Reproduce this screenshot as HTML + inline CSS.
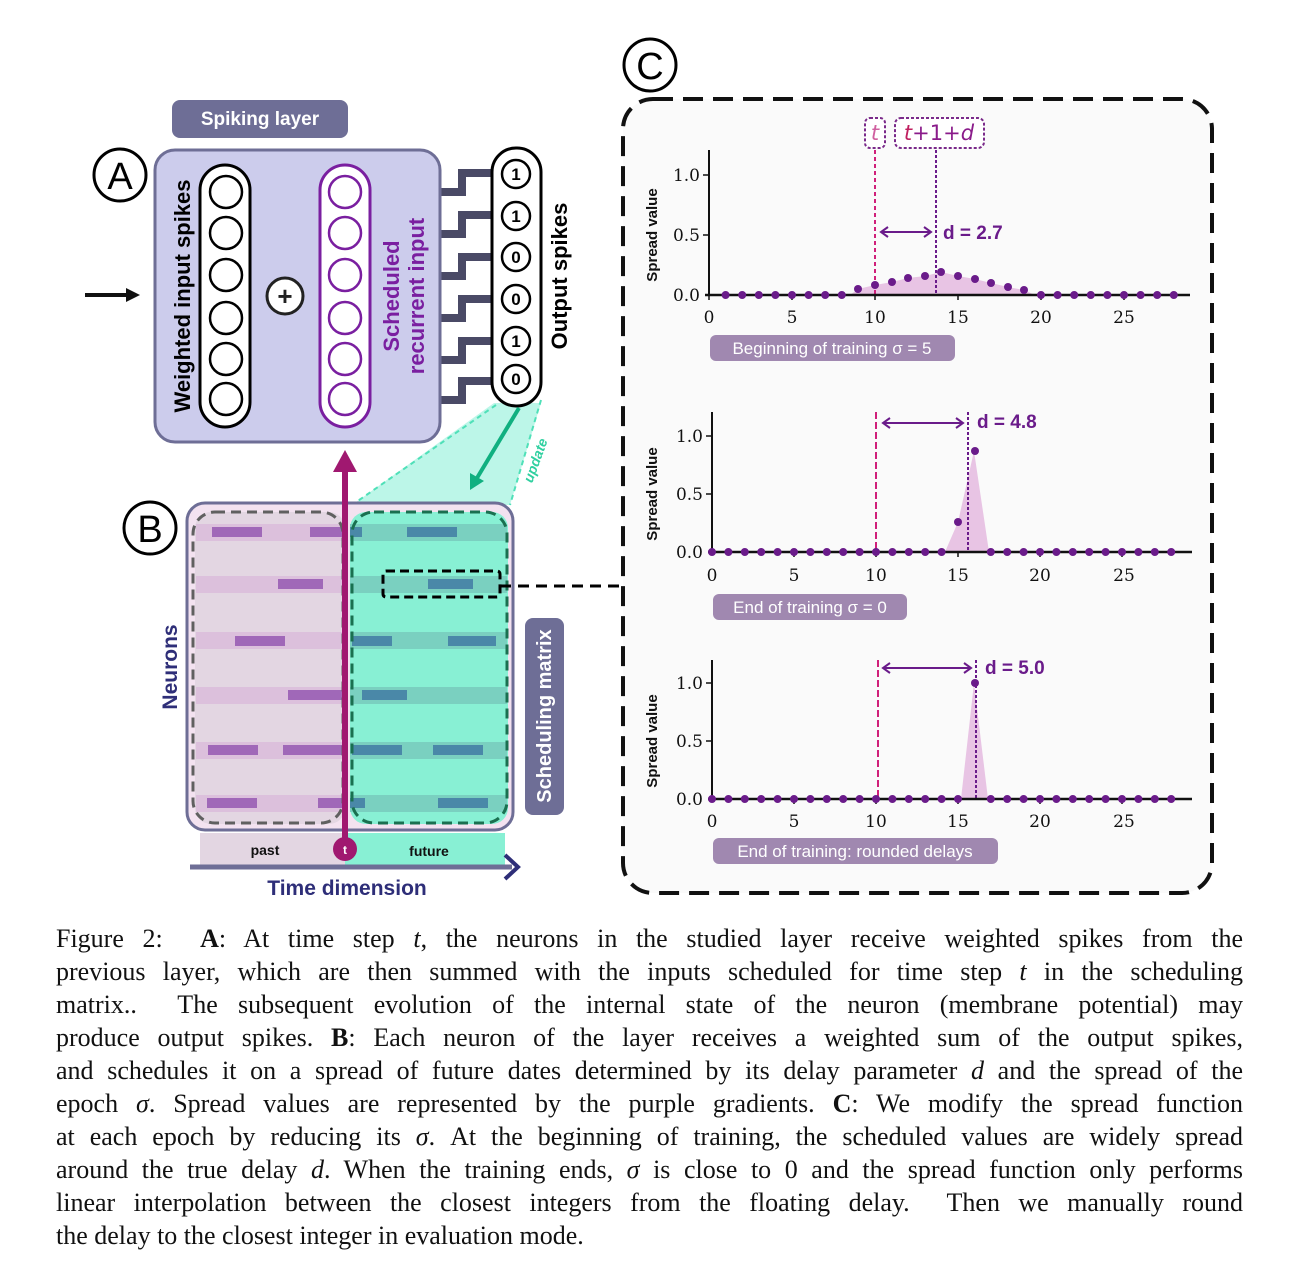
<!DOCTYPE html>
<html><head><meta charset="utf-8"><style>
html,body{margin:0;padding:0;background:#fff;}
body{width:1300px;height:1283px;position:relative;overflow:hidden;}
svg{position:absolute;left:0;top:0;}
.cap{position:absolute;left:56px;top:922px;width:1187px;font-family:"Liberation Serif",serif;font-size:26px;line-height:33px;color:#111;}
.cap div{white-space:nowrap;text-align:justify;text-align-last:justify;height:33px;}
.cap div.last{text-align-last:left;}
.s{font-family:"Liberation Sans",sans-serif;font-weight:bold;}
.tk{font-family:"DejaVu Serif","Liberation Serif",serif;font-size:17px;fill:#111;}
</style></head><body>
<svg width="1300" height="920" viewBox="0 0 1300 920">
<circle cx="120" cy="175" r="26" fill="#fff" stroke="#000" stroke-width="3"/>
<text x="120" y="189" text-anchor="middle" font-family="Liberation Sans" font-size="38">A</text>
<rect x="172" y="100" width="176" height="38" rx="8" fill="#6e6e96"/>
<text x="260" y="125" text-anchor="middle" class="s" font-size="19" fill="#fff">Spiking layer</text>
<line x1="85" y1="295" x2="128" y2="295" stroke="#111" stroke-width="4"/>
<polygon points="140,295 126,288 126,302" fill="#111"/>
<g stroke="#4a4a66" stroke-width="8" fill="none">
<path d="M440,192 H462 V173 H494"/><path d="M440,234 H462 V215 H494"/><path d="M440,276 H462 V257 H494"/>
<path d="M440,318 H462 V299 H494"/><path d="M440,360 H462 V341 H494"/><path d="M440,400 H462 V381 H494"/>
</g>
<rect x="155" y="150" width="285" height="292" rx="20" fill="#ccccec" stroke="#6e6e96" stroke-width="3"/>
<rect x="200" y="165" width="50" height="262" rx="25" fill="#fff" stroke="#000" stroke-width="3"/>
<g fill="none" stroke="#000" stroke-width="2.5">
<circle cx="226" cy="192" r="16"/><circle cx="226" cy="233" r="16"/><circle cx="226" cy="275" r="16"/><circle cx="226" cy="318" r="16"/><circle cx="226" cy="359" r="16"/><circle cx="226" cy="399" r="16"/>
</g>
<rect x="320" y="165" width="50" height="262" rx="25" fill="#fff" stroke="#7a1fa0" stroke-width="3"/>
<g fill="none" stroke="#7a1fa0" stroke-width="2.5">
<circle cx="345" cy="192" r="16"/><circle cx="345" cy="233" r="16"/><circle cx="345" cy="275" r="16"/><circle cx="345" cy="318" r="16"/><circle cx="345" cy="359" r="16"/><circle cx="345" cy="399" r="16"/>
</g>
<circle cx="285" cy="296" r="18" fill="#fff" stroke="#222" stroke-width="3"/>
<text x="285" y="305" text-anchor="middle" class="s" font-size="26" fill="#222">+</text>
<text transform="translate(190,296) rotate(-90)" text-anchor="middle" class="s" font-size="22" fill="#000">Weighted input spikes</text>
<text transform="translate(399,296) rotate(-90)" text-anchor="middle" class="s" font-size="22" fill="#7a1fa0">Scheduled</text>
<text transform="translate(424,296) rotate(-90)" text-anchor="middle" class="s" font-size="22" fill="#7a1fa0">recurrent input</text>
<polygon points="494,403 541,403 510,505 352,505" fill="#8ff0d8" opacity="0.6"/>
<line x1="496" y1="405" x2="352" y2="505" stroke="#4fe0b8" stroke-width="2" stroke-dasharray="5 4"/>
<line x1="541" y1="400" x2="510" y2="505" stroke="#4fe0b8" stroke-width="2" stroke-dasharray="5 4"/>
<rect x="492" y="148" width="49" height="258" rx="24" fill="#fff" stroke="#000" stroke-width="3"/>
<g fill="none" stroke="#000" stroke-width="2.5">
<circle cx="516" cy="174" r="14"/><circle cx="516" cy="216" r="14"/><circle cx="516" cy="257" r="14"/><circle cx="516" cy="299" r="14"/><circle cx="516" cy="341" r="14"/><circle cx="516" cy="379" r="14"/>
</g>
<g class="s" font-size="17" text-anchor="middle" fill="#000">
<text x="516" y="180">1</text><text x="516" y="222">1</text><text x="516" y="263">0</text><text x="516" y="305">0</text><text x="516" y="347">1</text><text x="516" y="385">0</text>
</g>
<text transform="translate(567,276) rotate(-90)" text-anchor="middle" class="s" font-size="22" fill="#000">Output spikes</text>
<line x1="519" y1="408" x2="477" y2="478" stroke="#10b080" stroke-width="4"/>
<polygon points="470,490 470,473 484,481" fill="#10b080"/>
<text transform="translate(540,462) rotate(-70)" text-anchor="middle" class="s" font-size="14" font-style="italic" fill="#30d0a0">update</text>
<circle cx="150" cy="528" r="26" fill="#fff" stroke="#000" stroke-width="3"/>
<text x="150" y="542" text-anchor="middle" font-family="Liberation Sans" font-size="38">B</text>
<rect x="187" y="503" width="326" height="327" rx="18" fill="#f3e2f0" stroke="#6e6e96" stroke-width="3"/>
<rect x="195" y="512" width="150" height="312" rx="16" fill="#e3d6e2"/>
<rect x="350" y="512" width="158" height="312" rx="16" fill="#88f0d4"/>
<g fill="#dcc0dc"><rect x="196" y="524" width="149" height="17"/><rect x="196" y="576" width="149" height="17"/><rect x="196" y="632" width="149" height="17"/><rect x="196" y="687" width="149" height="17"/><rect x="196" y="742" width="149" height="17"/><rect x="196" y="795" width="149" height="17"/></g>
<g fill="#7ad0c0"><rect x="350" y="524" width="157" height="17"/><rect x="350" y="576" width="157" height="17"/><rect x="350" y="632" width="157" height="17"/><rect x="350" y="687" width="157" height="17"/><rect x="350" y="742" width="157" height="17"/><rect x="350" y="795" width="157" height="17"/></g>
<g fill="#a068b8">
<rect x="212" y="527" width="50" height="10"/><rect x="310" y="527" width="35" height="10"/>
<rect x="278" y="579" width="45" height="10"/><rect x="235" y="636" width="50" height="10"/>
<rect x="288" y="690" width="55" height="10"/><rect x="208" y="745" width="50" height="10"/><rect x="283" y="745" width="60" height="10"/>
<rect x="207" y="798" width="50" height="10"/><rect x="318" y="798" width="27" height="10"/></g>
<g fill="#4a88a8">
<rect x="350" y="527" width="12" height="10"/><rect x="407" y="527" width="50" height="10"/>
<rect x="428" y="579" width="45" height="10"/><rect x="352" y="636" width="40" height="10"/><rect x="448" y="636" width="48" height="10"/>
<rect x="362" y="690" width="45" height="10"/><rect x="352" y="745" width="50" height="10"/><rect x="433" y="745" width="50" height="10"/>
<rect x="350" y="798" width="15" height="10"/><rect x="438" y="798" width="50" height="10"/></g>
<rect x="193" y="512" width="150" height="311" rx="22" fill="none" stroke="#606060" stroke-width="3" stroke-dasharray="10 6"/>
<rect x="352" y="512" width="155" height="311" rx="22" fill="none" stroke="#1a7050" stroke-width="3" stroke-dasharray="10 6"/>
<rect x="383" y="571" width="117" height="26" rx="3" fill="none" stroke="#000" stroke-width="3" stroke-dasharray="9 5"/>
<line x1="500" y1="586" x2="622" y2="586" stroke="#000" stroke-width="3" stroke-dasharray="11 7"/>
<rect x="200" y="833" width="145" height="33" fill="#e3d6e2"/>
<rect x="345" y="833" width="160" height="33" fill="#88f0d4"/>
<text x="265" y="855" text-anchor="middle" class="s" font-size="14" fill="#111">past</text>
<text x="429" y="856" text-anchor="middle" class="s" font-size="14" fill="#111">future</text>
<line x1="345" y1="470" x2="345" y2="845" stroke="#a01870" stroke-width="6"/>
<polygon points="345,450 333,472 357,472" fill="#a01870"/>
<circle cx="345" cy="849" r="12" fill="#a01870"/>
<text x="345" y="854" text-anchor="middle" class="s" font-size="12" fill="#fff">t</text>
<line x1="190" y1="867" x2="512" y2="867" stroke="#6e6e96" stroke-width="5"/>
<polyline points="505,855 518,867 505,879" fill="none" stroke="#2e2e78" stroke-width="4"/>
<text x="347" y="895" text-anchor="middle" class="s" font-size="21" fill="#2e2e78">Time dimension</text>
<text transform="translate(177,667) rotate(-90)" text-anchor="middle" class="s" font-size="21" fill="#2e2e78">Neurons</text>
<rect x="525" y="618" width="39" height="197" rx="8" fill="#6e6e96"/>
<text transform="translate(551,716) rotate(-90)" text-anchor="middle" class="s" font-size="20" fill="#fff">Scheduling matrix</text>
<circle cx="650" cy="65" r="26" fill="#fff" stroke="#000" stroke-width="3"/>
<text x="650" y="79" text-anchor="middle" font-family="Liberation Sans" font-size="38">C</text>
<rect x="623" y="99" width="589" height="794" rx="30" fill="#fafafa" stroke="#111" stroke-width="4" stroke-dasharray="20 10"/>
<polygon points="850,295 858,289 875,285 892,282 908,278 925,276 941,272 958,276 975,279 991,283 1008,287 1024,290 1035,295" fill="#e8c4e4"/>
<line x1="875" y1="150" x2="875" y2="295" stroke="#d0207a" stroke-width="2" stroke-dasharray="4 3"/>
<line x1="936" y1="150" x2="936" y2="295" stroke="#6a1b8a" stroke-width="2" stroke-dasharray="3 2"/>
<rect x="865" y="118" width="20" height="30" rx="5" fill="#fff" stroke="#7a2a8a" stroke-width="2" stroke-dasharray="3 2"/>
<text x="875" y="140" text-anchor="middle" font-family="DejaVu Sans" font-style="italic" font-size="21" fill="#d060a0">t</text>
<rect x="895" y="118" width="89" height="30" rx="6" fill="#fff" stroke="#7a2a8a" stroke-width="2" stroke-dasharray="3 2"/>
<text x="939" y="140" text-anchor="middle" font-family="DejaVu Sans" font-size="21" fill="#8a1b8a"><tspan font-style="italic" fill="#c02060">t</tspan>+1+<tspan font-style="italic">d</tspan></text>
<line x1="709" y1="150" x2="709" y2="295" stroke="#111" stroke-width="2"/>
<line x1="705" y1="295" x2="1190" y2="295" stroke="#111" stroke-width="2.5"/>
<g stroke="#111" stroke-width="1.5"><line x1="703" y1="175" x2="709" y2="175"/><line x1="703" y1="235" x2="709" y2="235"/><line x1="709" y1="295" x2="709" y2="300"/><line x1="792" y1="295" x2="792" y2="300"/><line x1="875" y1="295" x2="875" y2="300"/><line x1="958" y1="295" x2="958" y2="300"/><line x1="1041" y1="295" x2="1041" y2="300"/><line x1="1124" y1="295" x2="1124" y2="300"/></g>
<g class="tk" text-anchor="end"><text x="700" y="181">1.0</text><text x="700" y="241">0.5</text><text x="700" y="301">0.0</text></g>
<g class="tk" text-anchor="middle"><text x="709" y="323">0</text><text x="792" y="323">5</text><text x="875" y="323">10</text><text x="958" y="323">15</text><text x="1041" y="323">20</text><text x="1124" y="323">25</text></g>
<text transform="translate(657,235) rotate(-90)" text-anchor="middle" class="s" font-size="15" fill="#111">Spread value</text>
<g stroke="#6a1b8a" stroke-width="8" stroke-linecap="round" stroke-dasharray="0 16.6"><line x1="725.6" y1="295" x2="850" y2="295"/><line x1="1041" y1="295" x2="1180" y2="295"/></g>
<g fill="#6a1b8a"><circle cx="858" cy="289" r="4"/><circle cx="875" cy="285" r="4"/><circle cx="892" cy="282" r="4"/><circle cx="908" cy="278" r="4"/><circle cx="925" cy="276" r="4"/><circle cx="941" cy="272" r="4"/><circle cx="958" cy="276" r="4"/><circle cx="975" cy="279" r="4"/><circle cx="991" cy="283" r="4"/><circle cx="1008" cy="287" r="4"/><circle cx="1024" cy="290" r="4"/></g>
<line x1="882" y1="232" x2="930" y2="232" stroke="#6a1b8a" stroke-width="2"/>
<polyline points="888,227 881,232 888,237" fill="none" stroke="#6a1b8a" stroke-width="2"/><polyline points="924,227 931,232 924,237" fill="none" stroke="#6a1b8a" stroke-width="2"/>
<text x="943" y="239" class="s" font-size="19" fill="#6a1b8a">d = 2.7</text>
<rect x="710" y="335" width="245" height="26" rx="6" fill="#a088b0"/>
<text x="832" y="354" text-anchor="middle" font-family="Liberation Sans" font-size="17" fill="#fff">Beginning of training σ = 5</text>
<polygon points="945,552 958,522 974,451 989,552" fill="#e8c4e4"/>
<line x1="876" y1="412" x2="876" y2="552" stroke="#d0207a" stroke-width="2" stroke-dasharray="7 3"/>
<line x1="968" y1="412" x2="968" y2="552" stroke="#6a1b8a" stroke-width="2" stroke-dasharray="3 2"/>
<line x1="712" y1="412" x2="712" y2="552" stroke="#111" stroke-width="2"/>
<line x1="708" y1="552" x2="1192" y2="552" stroke="#111" stroke-width="2.5"/>
<g stroke="#111" stroke-width="1.5"><line x1="706" y1="436" x2="712" y2="436"/><line x1="706" y1="494" x2="712" y2="494"/><line x1="794" y1="552" x2="794" y2="557"/><line x1="876" y1="552" x2="876" y2="557"/><line x1="958" y1="552" x2="958" y2="557"/><line x1="1040" y1="552" x2="1040" y2="557"/><line x1="1122" y1="552" x2="1122" y2="557"/></g>
<g class="tk" text-anchor="end"><text x="703" y="442">1.0</text><text x="703" y="500">0.5</text><text x="703" y="558">0.0</text></g>
<g class="tk" text-anchor="middle"><text x="712" y="581">0</text><text x="794" y="581">5</text><text x="876" y="581">10</text><text x="958" y="581">15</text><text x="1040" y="581">20</text><text x="1124" y="581">25</text></g>
<text transform="translate(657,494) rotate(-90)" text-anchor="middle" class="s" font-size="15" fill="#111">Spread value</text>
<g stroke="#6a1b8a" stroke-width="8" stroke-linecap="round" stroke-dasharray="0 16.4"><line x1="712" y1="552" x2="945" y2="552"/><line x1="990.8" y1="552" x2="1180" y2="552"/></g>
<g fill="#6a1b8a"><circle cx="958" cy="522" r="4"/><circle cx="975" cy="451" r="4"/></g>
<line x1="884" y1="423" x2="962" y2="423" stroke="#6a1b8a" stroke-width="2"/>
<polyline points="890,418 883,423 890,428" fill="none" stroke="#6a1b8a" stroke-width="2"/><polyline points="956,418 963,423 956,428" fill="none" stroke="#6a1b8a" stroke-width="2"/>
<text x="977" y="428" class="s" font-size="19" fill="#6a1b8a">d = 4.8</text>
<rect x="713" y="594" width="194" height="26" rx="6" fill="#a088b0"/>
<text x="810" y="613" text-anchor="middle" font-family="Liberation Sans" font-size="17" fill="#fff">End of training σ = 0</text>
<polygon points="961,799 974,683 988,799" fill="#e8c4e4"/>
<line x1="878" y1="660" x2="878" y2="799" stroke="#d0207a" stroke-width="2" stroke-dasharray="7 3"/>
<line x1="976" y1="660" x2="976" y2="799" stroke="#6a1b8a" stroke-width="2" stroke-dasharray="3 2"/>
<line x1="712" y1="660" x2="712" y2="799" stroke="#111" stroke-width="2"/>
<line x1="708" y1="799" x2="1192" y2="799" stroke="#111" stroke-width="2.5"/>
<g stroke="#111" stroke-width="1.5"><line x1="706" y1="683" x2="712" y2="683"/><line x1="706" y1="741" x2="712" y2="741"/><line x1="794" y1="799" x2="794" y2="804"/><line x1="876" y1="799" x2="876" y2="804"/><line x1="958" y1="799" x2="958" y2="804"/><line x1="1040" y1="799" x2="1040" y2="804"/><line x1="1122" y1="799" x2="1122" y2="804"/></g>
<g class="tk" text-anchor="end"><text x="703" y="689">1.0</text><text x="703" y="747">0.5</text><text x="703" y="805">0.0</text></g>
<g class="tk" text-anchor="middle"><text x="712" y="827">0</text><text x="794" y="827">5</text><text x="876" y="827">10</text><text x="958" y="827">15</text><text x="1040" y="827">20</text><text x="1124" y="827">25</text></g>
<text transform="translate(657,741) rotate(-90)" text-anchor="middle" class="s" font-size="15" fill="#111">Spread value</text>
<g stroke="#6a1b8a" stroke-width="8" stroke-linecap="round" stroke-dasharray="0 16.4"><line x1="712" y1="799" x2="960" y2="799"/><line x1="990.8" y1="799" x2="1180" y2="799"/></g>
<circle cx="975" cy="683" r="4" fill="#6a1b8a"/>
<line x1="884" y1="668" x2="970" y2="668" stroke="#6a1b8a" stroke-width="2"/>
<polyline points="890,663 883,668 890,673" fill="none" stroke="#6a1b8a" stroke-width="2"/><polyline points="964,663 971,668 964,673" fill="none" stroke="#6a1b8a" stroke-width="2"/>
<text x="985" y="674" class="s" font-size="19" fill="#6a1b8a">d = 5.0</text>
<rect x="713" y="838" width="285" height="26" rx="6" fill="#a088b0"/>
<text x="855" y="857" text-anchor="middle" font-family="Liberation Sans" font-size="17" fill="#fff">End of training: rounded delays</text>
</svg>
<div class="cap">
<div>Figure 2: &nbsp;<b>A</b>: At time step <i>t</i>, the neurons in the studied layer receive weighted spikes from the</div>
<div>previous layer, which are then summed with the inputs scheduled for time step <i>t</i> in the scheduling</div>
<div>matrix.. &nbsp;The subsequent evolution of the internal state of the neuron (membrane potential) may</div>
<div>produce output spikes. <b>B</b>: Each neuron of the layer receives a weighted sum of the output spikes,</div>
<div>and schedules it on a spread of future dates determined by its delay parameter <i>d</i> and the spread of the</div>
<div>epoch <i>σ</i>. Spread values are represented by the purple gradients. <b>C</b>: We modify the spread function</div>
<div>at each epoch by reducing its <i>σ</i>. At the beginning of training, the scheduled values are widely spread</div>
<div>around the true delay <i>d</i>. When the training ends, <i>σ</i> is close to 0 and the spread function only performs</div>
<div>linear interpolation between the closest integers from the floating delay. &nbsp;Then we manually round</div>
<div class="last">the delay to the closest integer in evaluation mode.</div>
</div>
</body></html>
